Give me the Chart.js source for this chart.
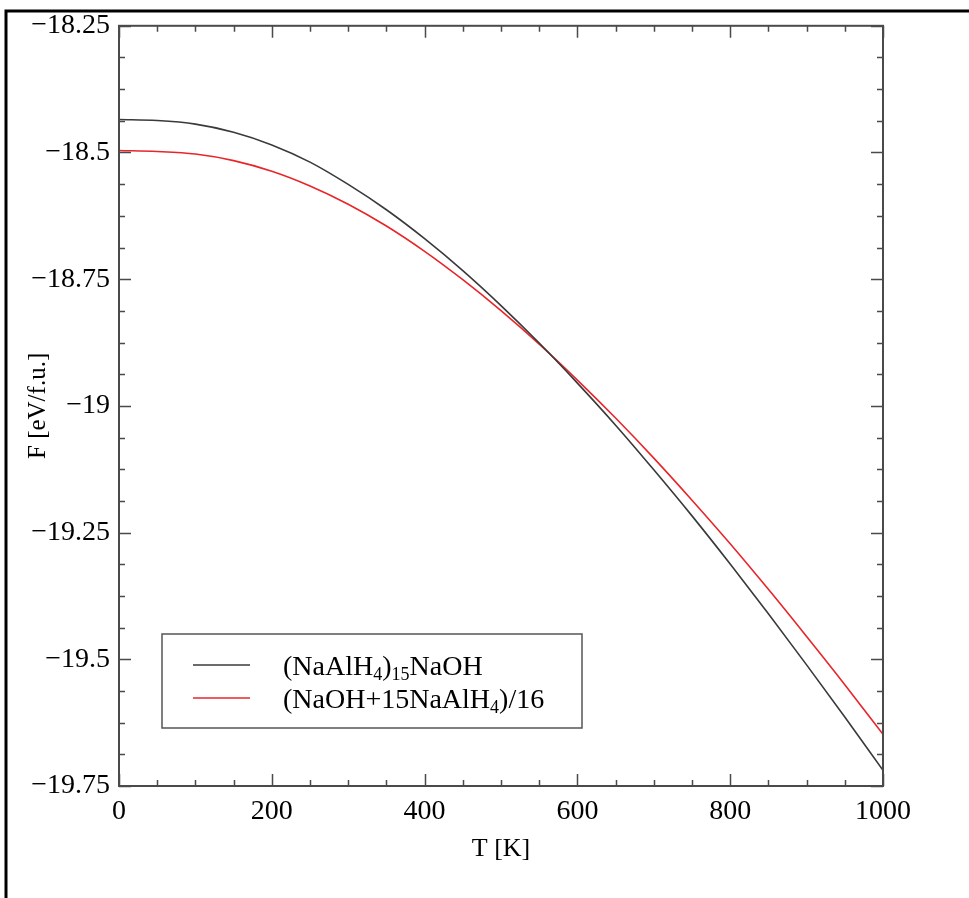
<!DOCTYPE html>
<html>
<head>
<meta charset="utf-8">
<script src="https://cdn.jsdelivr.net/npm/chart.js@4.4.1/dist/chart.umd.min.js"></script>
<style>
  html, body { margin: 0; padding: 0; background: #fff; }
  canvas { display: block; }
</style>
</head>
<body>
<canvas id="chart" width="969" height="898"></canvas>
<script>
// temperature grid (K)
const temps = [0, 50, 100, 150, 200, 250, 300, 350, 400, 450, 500,
               550, 600, 650, 700, 750, 800, 850, 900, 950, 1000];

// (NaAlH4)15NaOH
const freeEnergyDefect = [-18.435, -18.437, -18.444, -18.460, -18.485, -18.519, -18.563,
  -18.613, -18.670, -18.733, -18.802, -18.876, -18.955, -19.038, -19.126, -19.217,
  -19.312, -19.410, -19.511, -19.614, -19.719];

// (NaOH+15NaAlH4)/16
const freeEnergyMix = [-18.496, -18.498, -18.503, -18.516, -18.537, -18.566, -18.602,
  -18.645, -18.695, -18.751, -18.812, -18.878, -18.949, -19.024, -19.103, -19.186,
  -19.272, -19.362, -19.455, -19.550, -19.648];

// legend text, "_n" = subscript
const seriesLabels = ['(NaAlH_4)_15NaOH', '(NaOH+15NaAlH_4)/16'];
const seriesColors = ['#3a3a3a', '#e8262a'];

const xTicks = [0, 200, 400, 600, 800, 1000];
const yTicks = [-19.75, -19.5, -19.25, -19, -18.75, -18.5, -18.25];
const xMinorStep = 50;
const yMinorStep = 0.0625;

const serif = "'Liberation Serif', 'Times New Roman', serif";
Chart.defaults.font.family = serif;
Chart.defaults.color = '#000';

function toPoints(ys) {
  return temps.map((t, i) => ({x: t, y: ys[i]}));
}

function minusLabel(v) {
  const n = parseFloat(Math.abs(v).toFixed(2));
  return (v < 0 ? '\u2212' : '') + n;
}

// draw text with _digits as subscript
function drawRich(ctx, text, x, y) {
  const parts = text.split(/(_\d+)/).filter(s => s.length);
  ctx.textBaseline = 'alphabetic';
  ctx.textAlign = 'left';
  for (const p of parts) {
    if (p[0] === '_') {
      ctx.font = '18px ' + serif;
      ctx.fillText(p.slice(1), x, y + 5);
      x += ctx.measureText(p.slice(1)).width;
    } else {
      ctx.font = '28px ' + serif;
      ctx.fillText(p, x, y);
      x += ctx.measureText(p).width;
    }
  }
}

// white page + outer frame
const frame = {
  id: 'frame',
  beforeDraw(chart) {
    const ctx = chart.ctx;
    ctx.save();
    ctx.fillStyle = '#fff';
    ctx.fillRect(0, 0, chart.width, chart.height);
    ctx.strokeStyle = '#000';
    ctx.lineWidth = 3;
    ctx.beginPath();
    ctx.moveTo(6, chart.height);
    ctx.lineTo(6, 11);
    ctx.lineTo(chart.width, 11);
    ctx.stroke();
    ctx.restore();
  }
};

// box around plot and inward ticks on all four sides
const innerTicks = {
  id: 'innerTicks',
  afterDatasetsDraw(chart) {
    const {ctx, chartArea: a, scales: {x, y}} = chart;
    ctx.save();
    ctx.strokeStyle = '#4a4a4a';
    ctx.lineWidth = 1.5;
    ctx.beginPath();
    for (let v = x.min; v <= x.max + 1e-6; v += xMinorStep) {
      const px = Math.round(x.getPixelForValue(v)) + 0.5;
      const len = xTicks.includes(v) ? 12 : 6;
      ctx.moveTo(px, a.bottom); ctx.lineTo(px, a.bottom - len);
      ctx.moveTo(px, a.top); ctx.lineTo(px, a.top + len);
    }
    for (let v = y.min; v <= y.max + 1e-6; v += yMinorStep) {
      const py = Math.round(y.getPixelForValue(v)) + 0.5;
      const major = yTicks.some(t => Math.abs(t - v) < 1e-6);
      const len = major ? 12 : 6;
      ctx.moveTo(a.left, py); ctx.lineTo(a.left + len, py);
      ctx.moveTo(a.right, py); ctx.lineTo(a.right - len, py);
    }
    ctx.stroke();
    ctx.lineWidth = 2;
    ctx.strokeRect(a.left, a.top, a.right - a.left, a.bottom - a.top);
    ctx.restore();
  }
};

// legend box like the original (lines + subscripted labels)
const legendBox = {
  id: 'legendBox',
  afterDraw(chart) {
    const ctx = chart.ctx;
    ctx.save();
    ctx.fillStyle = '#fff';
    ctx.fillRect(162, 634, 420, 94);
    ctx.strokeStyle = '#555';
    ctx.lineWidth = 1.5;
    ctx.strokeRect(162, 634, 420, 94);
    chart.data.datasets.forEach((ds, i) => {
      const ly = 665 + i * 33;
      ctx.strokeStyle = ds.borderColor;
      ctx.lineWidth = 1.6;
      ctx.beginPath();
      ctx.moveTo(193, ly);
      ctx.lineTo(250, ly);
      ctx.stroke();
      ctx.fillStyle = '#000';
      drawRich(ctx, seriesLabels[i], 283, ly + 10);
    });
    ctx.restore();
  }
};

new Chart(document.getElementById('chart'), {
  type: 'line',
  data: {
    datasets: seriesLabels.map((lab, i) => ({
      label: lab.replace(/_/g, ''),
      data: toPoints(i === 0 ? freeEnergyDefect : freeEnergyMix),
      borderColor: seriesColors[i],
      borderWidth: 1.6,
      pointRadius: 0,
      fill: false,
      cubicInterpolationMode: 'monotone'
    }))
  },
  options: {
    responsive: false,
    animation: false,
    devicePixelRatio: 1,
    layout: { padding: { top: 22, right: 86, left: 0, bottom: 0 } },
    plugins: {
      legend: { display: false },
      tooltip: { enabled: false }
    },
    scales: {
      x: {
        type: 'linear',
        min: 0,
        max: 1000,
        afterBuildTicks: s => { s.ticks = xTicks.map(v => ({value: v})); },
        afterFit: s => { s.height = 112; },
        grid: { display: false, drawTicks: false },
        border: { display: false },
        ticks: {
          font: { size: 28 },
          color: '#000',
          padding: 9,
          maxRotation: 0,
          autoSkip: false,
          callback: v => String(v)
        },
        title: {
          display: true,
          text: 'T [K]',
          font: { size: 26 },
          color: '#000',
          padding: { top: 0, bottom: 33 }
        }
      },
      y: {
        type: 'linear',
        min: -19.75,
        max: -18.25,
        afterBuildTicks: s => { s.ticks = yTicks.map(v => ({value: v})); },
        afterFit: s => { s.width = 119; },
        grid: { display: false, drawTicks: false },
        border: { display: false },
        ticks: {
          font: { size: 28 },
          color: '#000',
          padding: 9,
          autoSkip: false,
          callback: v => minusLabel(v)
        },
        title: {
          display: true,
          text: 'F [eV/f.u.]',
          font: { size: 25 },
          color: '#000',
          padding: { top: 23, bottom: 0 }
        }
      }
    }
  },
  plugins: [frame, innerTicks, legendBox]
});
</script>
</body>
</html>
